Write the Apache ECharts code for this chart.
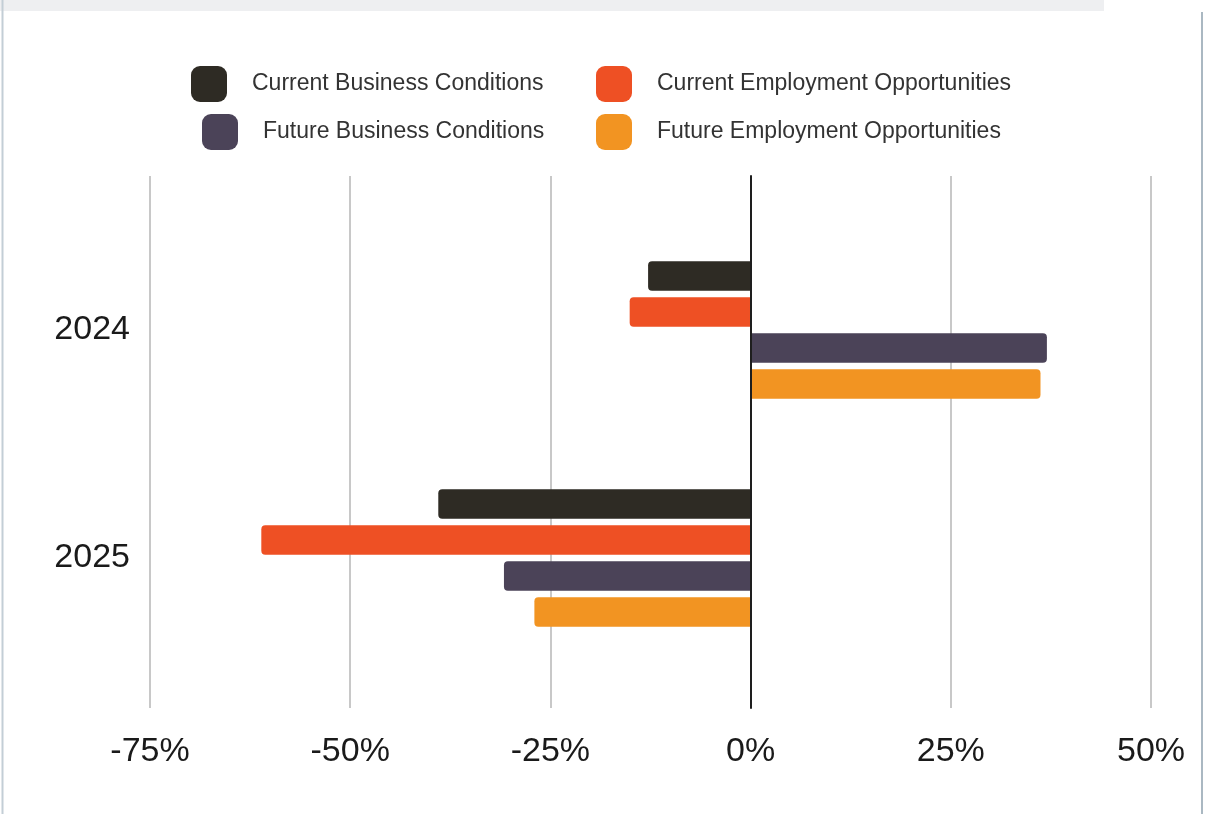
<!DOCTYPE html>
<html>
<head>
<meta charset="utf-8">
<style>
  html, body { margin: 0; padding: 0; background: #ffffff; }
  #chart { width: 1215px; height: 814px; }
</style>
<script src="https://cdn.jsdelivr.net/npm/echarts@6/dist/echarts.min.js"></script>
</head>
<body>
<div id="chart"></div>
<script>
// Survey years (category axis)
const years = ['2024', '2025'];

// Net balance per indicator, percent
const currentBusiness = [-12.8, -39.0];
const currentEmployment = [-15.1, -61.1];
const futureBusiness = [37.0, -30.8];
const futureEmployment = [36.2, -27.0];

// Value axis range and step
const axisMin = -75;
const axisMax = 50;
const axisStep = 25;

const seriesNames = [
  'Current Business Conditions',
  'Current Employment Opportunities',
  'Future Business Conditions',
  'Future Employment Opportunities'
];
const seriesColors = ['#2e2b24', '#ee5024', '#4b4358', '#f29422'];
const seriesValues = [currentBusiness, currentEmployment, futureBusiness, futureEmployment];

const font = '"Liberation Sans", Arial, sans-serif';

// round only the outer end of each bar
function barData(values) {
  return values.map(v => ({
    value: v,
    itemStyle: { borderRadius: v < 0 ? [4, 0, 0, 4] : [0, 4, 4, 0] }
  }));
}

function legendItem(name, left, top) {
  return {
    data: [name],
    left: left,
    top: top,
    padding: 0,
    itemWidth: 36,
    itemHeight: 36,
    icon: 'roundRect',
    selectedMode: false,
    textStyle: {
      fontFamily: font,
      fontSize: 23,
      color: '#333333',
      padding: [4, 0, 0, 20]
    }
  };
}

const chart = echarts.init(document.getElementById('chart'), null, { renderer: 'canvas' });

chart.setOption({
  backgroundColor: '#ffffff',
  animation: false,
  graphic: [
    { type: 'rect', shape: { x: 0, y: 0, width: 1104, height: 11 }, style: { fill: '#eeeff1' }, silent: true },
    { type: 'line', shape: { x1: 2.5, y1: 0, x2: 2.5, y2: 814 }, style: { stroke: '#c3ced6', lineWidth: 2 }, silent: true },
    { type: 'line', shape: { x1: 1202, y1: 12, x2: 1202, y2: 814 }, style: { stroke: '#aab8c2', lineWidth: 2 }, silent: true }
  ],
  legend: [
    legendItem(seriesNames[0], 191, 66),
    legendItem(seriesNames[2], 202, 114),
    legendItem(seriesNames[1], 596, 66),
    legendItem(seriesNames[3], 596, 114)
  ],
  grid: [
    // gridlines, tick labels and the zero line
    { left: 150, right: 64, top: 176, bottom: 106, containLabel: false },
    // bars
    { left: 150, right: 64, top: 216, bottom: 142, containLabel: false }
  ],
  xAxis: [
    {
      gridIndex: 0,
      type: 'value',
      min: axisMin,
      max: axisMax,
      interval: axisStep,
      axisLine: { show: false },
      axisTick: { show: false },
      axisLabel: {
        formatter: '{value}%',
        fontFamily: font,
        fontSize: 34,
        color: '#1a1a1a',
        margin: 27
      },
      splitLine: { show: true, lineStyle: { color: '#c8c8c8', width: 2 } }
    },
    {
      gridIndex: 1,
      type: 'value',
      min: axisMin,
      max: axisMax,
      interval: axisStep,
      show: false
    }
  ],
  yAxis: [
    {
      gridIndex: 0,
      type: 'value',
      min: 0,
      max: 1,
      z: 5,
      axisLine: { show: true, onZero: true, lineStyle: { color: '#1e1e1e', width: 2 } },
      axisTick: { show: false },
      axisLabel: { show: false },
      splitLine: { show: false }
    },
    {
      gridIndex: 1,
      type: 'category',
      data: years,
      inverse: true,
      axisLine: { show: false },
      axisTick: { show: false },
      axisLabel: {
        fontFamily: font,
        fontSize: 34,
        color: '#1a1a1a',
        margin: 20,
        padding: [6, 0, 0, 0]
      },
      splitLine: { show: false }
    }
  ],
  series: seriesNames.map((name, i) => ({
    name: name,
    type: 'bar',
    xAxisIndex: 1,
    yAxisIndex: 1,
    barWidth: 29.5,
    barGap: '22%',
    itemStyle: { color: seriesColors[i] },
    data: barData(seriesValues[i])
  }))
});
</script>
</body>
</html>
